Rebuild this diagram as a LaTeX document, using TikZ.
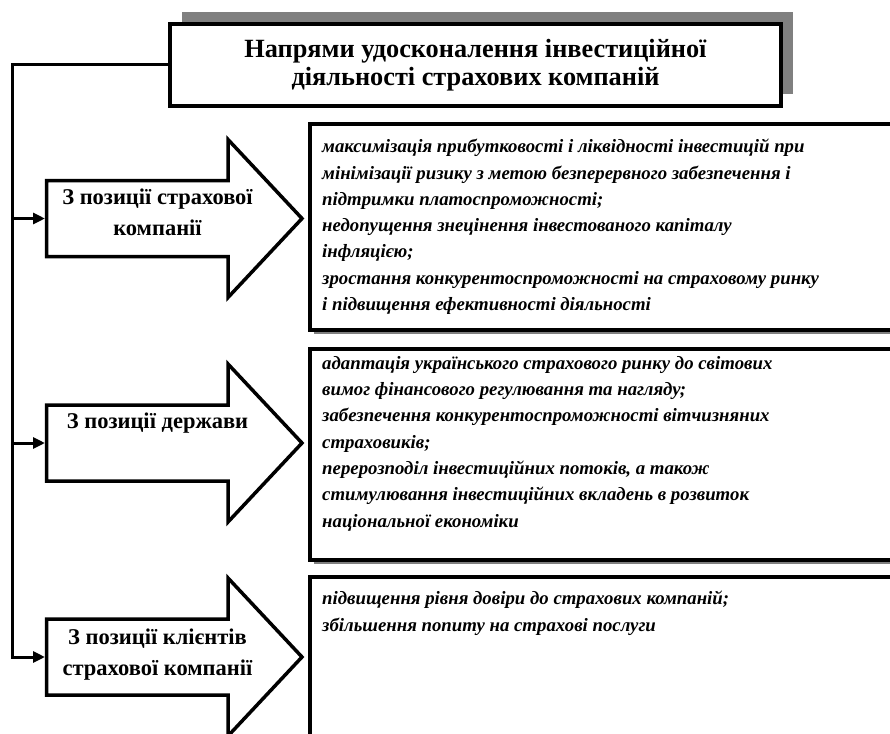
\documentclass[tikz,border=0pt]{standalone}
\usepackage{fontspec}
\setmainfont{Liberation Serif}
\usetikzlibrary{positioning,arrows.meta,shadows}

\tikzset{
  headbox/.style={draw, line width=4pt, fill=white, minimum width=611pt, minimum height=82pt,
    align=center, font=\fontsize{26.3}{28.5}\selectfont\bfseries,
    drop shadow={shadow xshift=12pt, shadow yshift=12pt, fill=gray, opacity=1}},
  goalbox/.style={draw, line width=4pt, fill=white, anchor=north west, inner sep=0pt, minimum width=600pt,
    drop shadow={shadow xshift=4pt, shadow yshift=-4pt, fill=gray, opacity=1}},
  goaltext/.style={anchor=north west, inner sep=0pt, align=left,
    font=\fontsize{18.8}{26.3}\selectfont\bfseries\itshape},
  viewarrow/.style={draw, line width=3.5pt, fill=white, line join=miter},
  viewlabel/.style={anchor=north, inner sep=0pt, align=center,
    font=\fontsize{22.5}{31}\selectfont\bfseries},
  feed/.style={line width=3pt, -{Triangle[length=12pt,width=11pt]}}
}

\begin{document}
\begin{tikzpicture}[x=1pt,y=-1pt]
\clip (0,0) rectangle (890,733);

\node[headbox] (title) at (475.5,65) {Напрями удосконалення інвестиційної\\діяльності страхових компаній};

\foreach \n/\y in {1/218.5,2/443,3/657} {
  \draw[viewarrow] (46.5,\y-38) -- (228,\y-38) -- (228,\y-79) -- (302,\y)
    -- (228,\y+79) -- (228,\y+38) -- (46.5,\y+38) -- cycle;
  \coordinate (tail\n) at (45,\y);
}
\node[viewlabel] (view1) at (157.5,189) {З позиції страхової\\компанії};
\node[viewlabel] (view2) at (157.5,413) {З позиції держави};
\node[viewlabel] (view3) at (157.5,629) {З позиції клієнтів\\страхової компанії};

\node[goalbox, minimum height=206pt] (goal1) at (308,122) {};
\node[goalbox, minimum height=211pt] (goal2) at (308,347) {};
\node[goalbox, minimum height=200pt] (goal3) at (308,575) {};

\node[goaltext] (goaltext1) at (322,139) {максимізація прибутковості і ліквідності інвестицій при\\
  мінімізації ризику з метою безперервного забезпечення і\\
  підтримки платоспроможності;\\
  недопущення знецінення інвестованого капіталу\\
  інфляцією;\\
  зростання конкурентоспроможності на страховому ринку\\
  і підвищення ефективності діяльності};
\node[goaltext] (goaltext2) at (322,356) {адаптація українського страхового ринку до світових\\
  вимог фінансового регулювання та нагляду;\\
  забезпечення конкурентоспроможності вітчизняних\\
  страховиків;\\
  перерозподіл інвестиційних потоків, а також\\
  стимулювання інвестиційних вкладень в розвиток\\
  національної економіки};
\node[goaltext] (goaltext3) at (322,591) {підвищення рівня довіри до страхових компаній;\\
  збільшення попиту на страхові послуги};

\coordinate (spine) at (12,657);
\draw[feed] (title.west) -| (spine) -- (tail3);
\draw[feed] (spine |- tail1) -- (tail1);
\draw[feed] (spine |- tail2) -- (tail2);
\end{tikzpicture}
\end{document}
